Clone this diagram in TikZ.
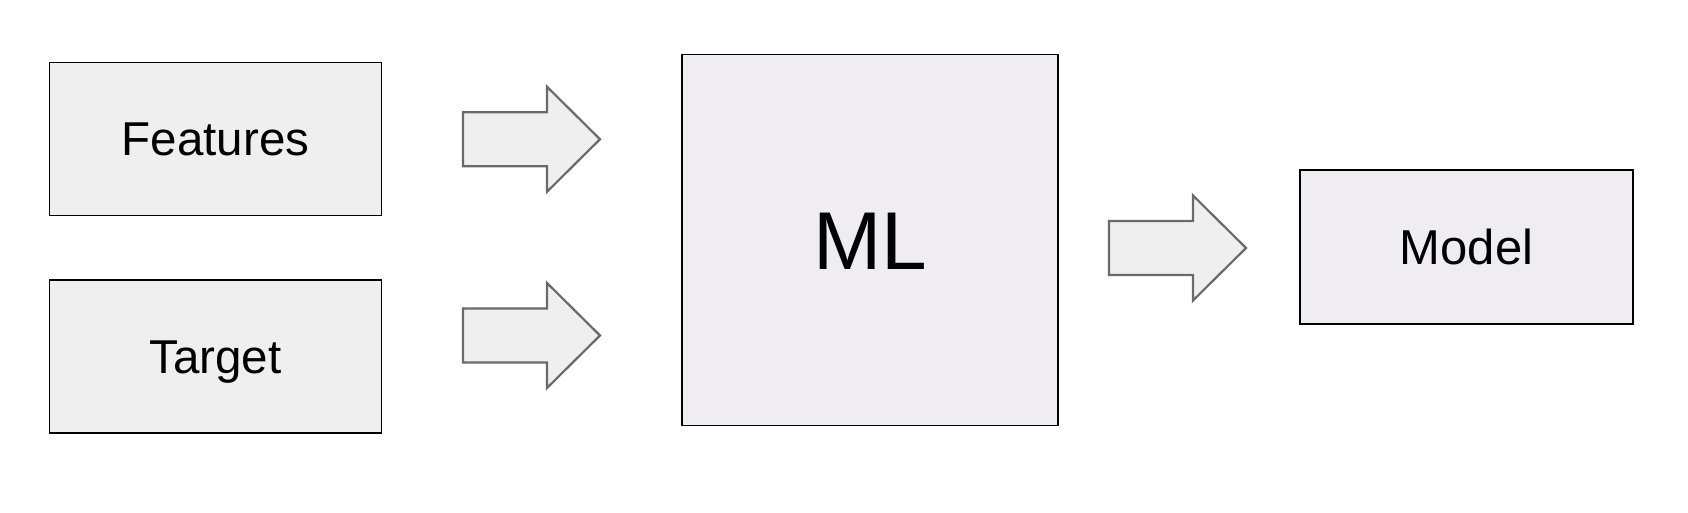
\documentclass[tikz,border=0pt]{standalone}
\usepackage{fontspec}
\setmainfont{Liberation Sans}
\definecolor{boxfill}{HTML}{EFEFEF}
\definecolor{mlfill}{HTML}{EFEDF1}
\definecolor{arrowline}{HTML}{6A6A6A}
\begin{document}
\begin{tikzpicture}[x=1pt,y=-1pt,
  blk/.style={draw=black, line width=1.8pt, fill=boxfill, inner sep=0pt,
    text height=34pt, text depth=0pt,
    font=\fontsize{47.5}{50}\selectfont},
  barrow/.pic={\path[draw=arrowline, line width=2.2pt, fill=boxfill, line join=miter]
    (0,-27) -- (84,-27) -- (84,-52.5) -- (137,0) -- (84,52.5) -- (84,27) -- (0,27) -- cycle;}]
\useasboundingbox[fill=white] (0,0) rectangle (1688,513);
\node[blk, minimum width=332pt, minimum height=153pt] (feat) at (215.5,139) {Features};
\node[blk, minimum width=332pt, minimum height=153pt] (targ) at (215.5,356.5) {Target};
\node[blk, fill=mlfill, minimum width=376pt, minimum height=371pt,
  text height=58.7pt, font=\fontsize{82}{86}\selectfont] (ml) at (870,240) {ML};
\node[blk, fill=mlfill, minimum width=333pt, minimum height=154pt,
  text height=35pt, font=\fontsize{49}{52}\selectfont] (model) at (1466.5,247) {Model};
\pic at (463,139.25) {barrow};
\pic at (463,335.5) {barrow};
\pic at (1109,248) {barrow};
\end{tikzpicture}
\end{document}
